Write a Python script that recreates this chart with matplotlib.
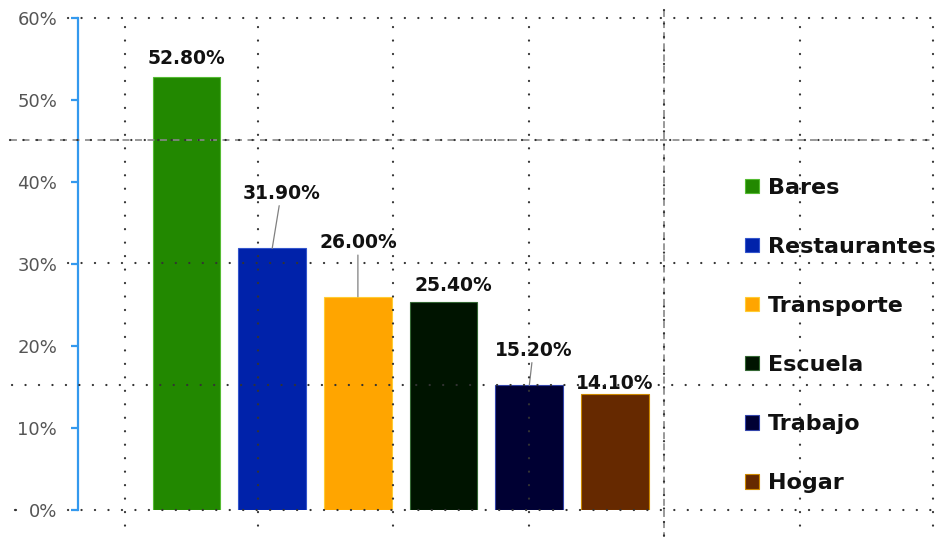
import matplotlib
matplotlib.use("Agg")
import matplotlib.pyplot as plt
from matplotlib.ticker import FixedLocator

plt.rcParams['font.family'] = ['DejaVu Sans']
plt.rcParams['lines.scale_dashes'] = False

categories = ["Bares", "Restaurantes", "Transporte", "Escuela", "Trabajo", "Hogar"]
values = [52.8, 31.9, 26.0, 25.4, 15.2, 14.1]
value_labels = ["52.80%", "31.90%", "26.00%", "25.40%", "15.20%", "14.10%"]
colors = ["#228800", "#0022aa", "#ffa500", "#001400", "#000033", "#662900"]
edge_colors = ["#55bb33", "#3355cc", "#ffcc33", "#336633", "#3344aa", "#cc8800"]
ytick_values = [0, 10, 20, 30, 40, 50, 60]
ytick_labels = ["0%", "10%", "20%", "30%", "40%", "50%", "60%"]

W, H = 935, 537
fig = plt.figure(figsize=(W / 100, H / 100), dpi=100)
fig.patch.set_facecolor("white")

# main axes: spine at x=78 px, y from 18 to 510 px
ax = fig.add_axes([78 / W, (H - 510) / H, (W - 78) / W, (510 - 18) / H])
ax.set_facecolor("none")
ax.set_ylim(0, 60)
step = 85.7
x0 = (186.5 - 78) / step
ax.set_xlim(-x0, -x0 + (W - 78) / step)

xs = list(range(len(categories)))
bars = ax.bar(xs, values, width=0.79, color=colors, edgecolor=edge_colors,
              linewidth=0.8, zorder=2)
for b, c in zip(bars, categories):
    b.set_label(c)

# label offsets in pixels (dx, dy) and whether there is a leader line
offsets = [(0, 19, False), (9, 55, True), (0, 54, True), (10, 16, False),
           (4, 35, True), (0, 11, False)]
for i, (v, lab) in enumerate(zip(values, value_labels)):
    dx, dy, lead = offsets[i]
    kw = {}
    if lead:
        kw["arrowprops"] = dict(arrowstyle="-", color="#808080", lw=0.9,
                                shrinkA=0, shrinkB=0)
    ax.annotate(lab, xy=(xs[i], v),
                xytext=(dx, dy), textcoords="offset pixels",
                ha="center", va="center", fontsize=13.5, fontweight="bold",
                color="#111111", zorder=5, **kw)

for s in ["top", "right", "bottom"]:
    ax.spines[s].set_visible(False)
ax.spines["left"].set_color("#3399ee")
ax.spines["left"].set_linewidth(1.6)
ax.yaxis.set_major_locator(FixedLocator(ytick_values))
ax.set_yticklabels(ytick_labels)
ax.tick_params(axis="y", colors="#3399ee", length=5, width=1.6, pad=10,
               labelcolor="#555555", labelsize=13)
ax.set_xticks([])

leg = ax.legend(loc="center left", bbox_to_anchor=(745 / W, 1 - 335.5 / H),
                bbox_transform=fig.transFigure, frameon=False,
                prop=dict(size=16, weight="bold"),
                handlelength=0.62, handleheight=0.62, handletextpad=0.4,
                labelspacing=1.76, borderpad=0, borderaxespad=0)
leg.set_zorder(10)
for t in leg.get_texts():
    t.set_color("#111111")

# decorative grid overlay in pixel coordinates
ov = fig.add_axes([0, 0, 1, 1], zorder=3)
ov.set_xlim(0, W)
ov.set_ylim(H, 0)
ov.axis("off")
ov.patch.set_alpha(0)
dot = dict(color="#333333", lw=1.6, linestyle=(0, (0.1, 9.6)),
           dash_capstyle="round")
for y, xa in [(18, 68), (263, 68), (385, 12), (510, 68)]:
    ov.plot([xa, W], [y, y], **dot)
ov.plot([15, 16], [510, 510], color="#333333", lw=1.6, solid_capstyle="round")
ov.plot([10, W], [140, 140], color="#888888", lw=1.2, linestyle=(0, (5, 4)))
ov.plot([10, W], [140, 140], **dot)
for x in [125, 258, 393, 529, 800, 933]:
    ov.plot([x, x], [27, H], **dot)
ov.plot([664, 664], [10, H], color="#888888", lw=1.2, linestyle=(0, (5, 3)))
ov.plot([664, 664], [10, H], **dot)

fig.savefig("out.png", dpi=100, facecolor="white")
